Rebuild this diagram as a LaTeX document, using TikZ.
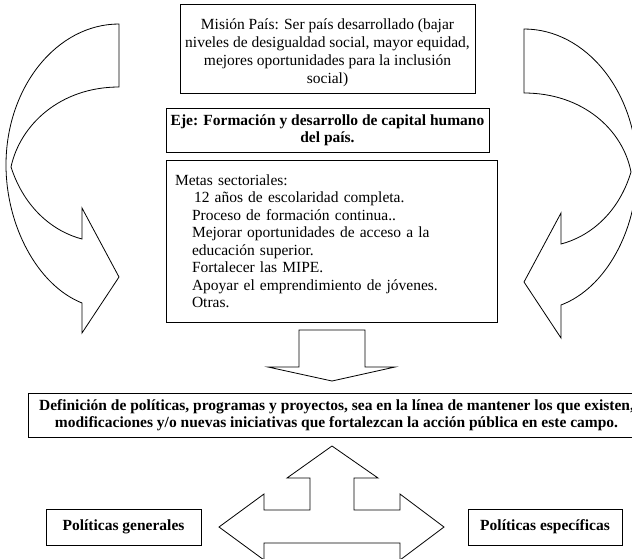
\documentclass[tikz,border=0pt]{standalone}
\usepackage{fontspec}
\setmainfont{Liberation Serif}

\begin{document}
\begin{tikzpicture}[x=1pt,y=-1pt,line width=0.8pt,
    box/.style={draw,inner sep=0pt,align=center,font=\fontsize{15.5}{17.5}\selectfont},
    boldbox/.style={box,font=\fontsize{15.5}{17.5}\selectfont\bfseries}]
    \useasboundingbox (0,0) rectangle (632,558);
    \clip (0,0) rectangle (632,558);
    % boxes
    \node[box,minimum width=295pt,minimum height=89pt,font=\fontsize{15.5}{18}\selectfont] (mision) at (327.5,48.5)
        {\rule{0pt}{20pt}Misión País: Ser país desarrollado (bajar\\niveles de desigualdad social, mayor equidad,\\mejores oportunidades para la inclusión\\social)};
    \node[boldbox,minimum width=323pt,minimum height=44pt] (eje) at (327.5,130.5)
        {Eje: Formación y desarrollo de capital humano\\del país.};
    \node[box,minimum width=331pt,minimum height=162pt,text width=313pt,align=left] (metas) at (331.5,241)
        {Metas sectoriales:\\
        \hspace*{19pt}12 años de escolaridad completa.\\
        \hspace*{17pt}Proceso de formación continua..\\
        \hspace*{17pt}Mejorar oportunidades de acceso a la\\
        \hspace*{17pt}educación superior.\\
        \hspace*{17pt}Fortalecer las MIPE.\\
        \hspace*{17pt}Apoyar el emprendimiento de jóvenes.\\
        \hspace*{17pt}Otras.};
    \node[boldbox,minimum width=617pt,minimum height=44pt] (defin) at (336.5,415)
        {Definición de políticas, programas y proyectos, sea en la línea de mantener los que existen,\\modificaciones y/o nuevas iniciativas que fortalezcan la acción pública en este campo.};
    \node[boldbox,minimum width=155pt,minimum height=36pt] (gen) at (123.5,527) {Políticas generales};
    \node[boldbox,minimum width=154pt,minimum height=36pt] (esp) at (545,527) {Políticas específicas};
    % curved arrows
    \draw (119,24) .. controls (57,24) and (6,87) .. (6,165)
        .. controls (6,225) and (37,285) .. (82,303) -- (82,333) -- (119,277)
        -- (82,208) -- (82,239) .. controls (55,232) and (25,210) .. (11,167)
        .. controls (20,125) and (60,87) .. (119,87) -- cycle;
    \draw (524,29) .. controls (586,29) and (637,92) .. (637,170)
        .. controls (637,230) and (606,288) .. (561,305) -- (561,338) -- (524,282)
        -- (561,213) -- (561,244) .. controls (588,237) and (618,215) .. (631,172)
        .. controls (623,130) and (583,93) .. (524,93) -- cycle;
    % block arrows
    \draw (299,330) -- (365,330) -- (365,367) -- (395,367) -- (332,381)
        -- (268,367) -- (299,367) -- cycle;
    \draw (332,446) -- (378,478) -- (354,478) -- (354,510) -- (400,510)
        -- (400,494) -- (444,527) -- (400,560) -- (400,543) -- (264,543)
        -- (264,560) -- (219,527) -- (264,494) -- (264,510) -- (310,510)
        -- (310,478) -- (287,478) -- cycle;
\end{tikzpicture}
\end{document}
